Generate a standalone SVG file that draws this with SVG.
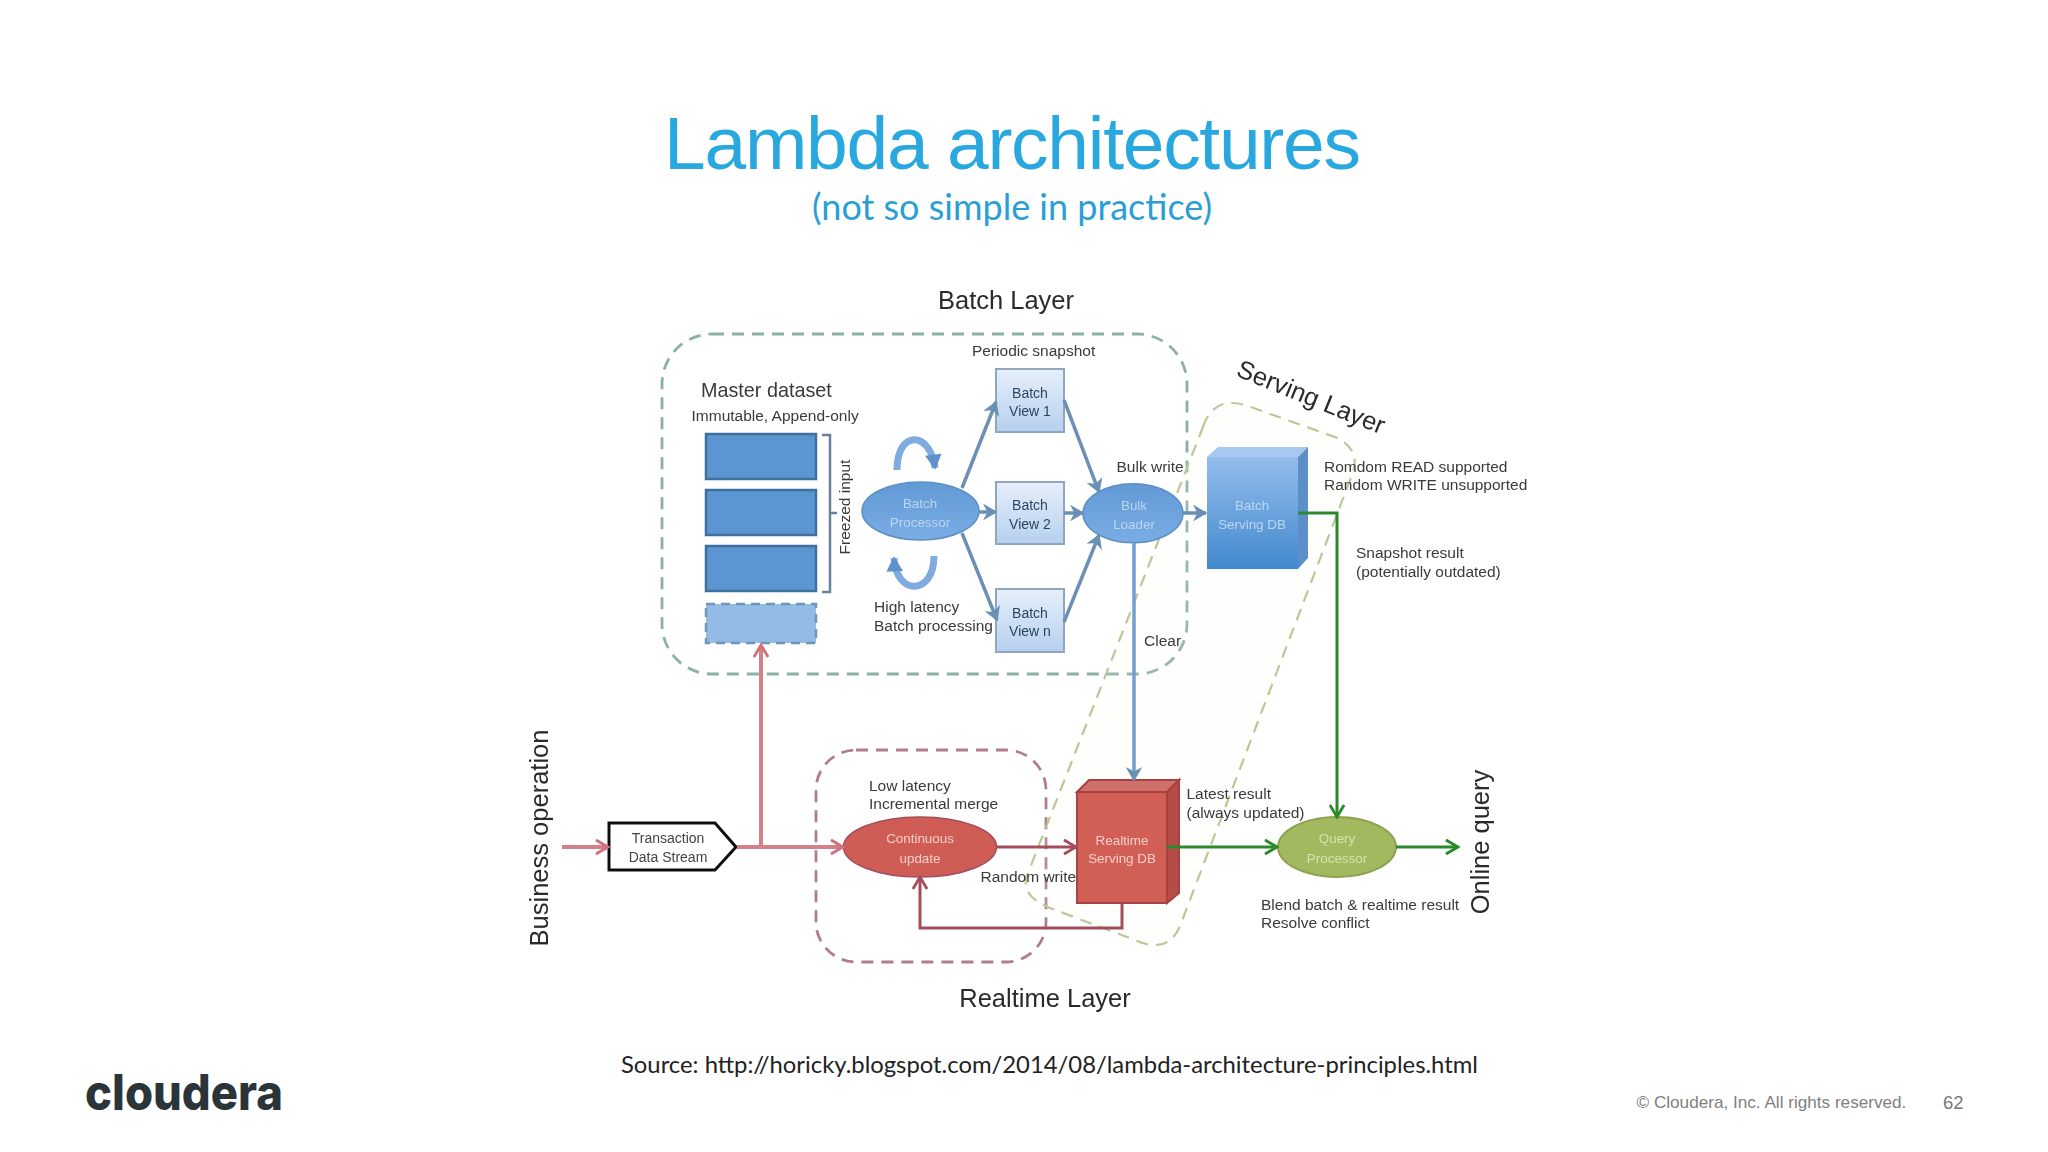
<svg xmlns="http://www.w3.org/2000/svg" width="2048" height="1152" viewBox="0 0 2048 1152">
<style>
text{font-family:"Liberation Sans",Arial,sans-serif;fill:#3a3a3a}
.s{font-size:15.5px}
.l{font-size:25.5px;fill:#2a2a2a}
.m{text-anchor:middle}
.v{font-size:14px;text-anchor:middle;fill:#2c4560;font-weight:500}
.b{font-size:13.4px;text-anchor:middle;fill:#bcd6f0}
.r{font-size:13.4px;text-anchor:middle;fill:#f7cfc8}
.g{font-size:13.4px;text-anchor:middle;fill:#d6e2b0}
.blk{fill:#5b96d2;stroke:#3f6f9e;stroke-width:2.5}
.view{fill:url(#vg);stroke:#8fa6bd;stroke-width:2}
.ar{fill:none;stroke:#6a90b5;stroke-width:3.5}
.rd{fill:none;stroke:#d58088;stroke-width:4}
.rt{fill:none;stroke:#a34e5c;stroke-width:3}
.gr{fill:none;stroke:#2b8a2b;stroke-width:3}
</style>
<defs>
<filter id="soft" x="-2%" y="-2%" width="104%" height="104%"><feGaussianBlur stdDeviation="0.55"/></filter>
<linearGradient id="vg" x1="0" y1="0" x2="0" y2="1"><stop offset="0" stop-color="#e6effa"/><stop offset="1" stop-color="#b6d0ef"/></linearGradient>
<linearGradient id="eg" x1="0" y1="0" x2="0" y2="1"><stop offset="0" stop-color="#6299d6"/><stop offset="1" stop-color="#7aade4"/></linearGradient>
<linearGradient id="dbg" x1="0" y1="0" x2="0" y2="1"><stop offset="0" stop-color="#93bdec"/><stop offset="1" stop-color="#4289cf"/></linearGradient>
<marker id="ab" viewBox="0 0 12 12" refX="10.5" refY="6" markerWidth="16" markerHeight="16" markerUnits="userSpaceOnUse" orient="auto"><path d="M2,1 L10.5,6 L2,11 L4.5,6 Z" fill="#6a90b5" stroke="#6a90b5" stroke-width="1"/></marker>
<marker id="ac" viewBox="0 0 12 12" refX="9" refY="6" markerWidth="20" markerHeight="20" markerUnits="userSpaceOnUse" orient="auto"><path d="M1,1 L10,6 L1,11 Z" fill="#5e92cc"/></marker>
<marker id="ar" viewBox="0 0 12 12" refX="10.5" refY="6" markerWidth="17" markerHeight="17" markerUnits="userSpaceOnUse" orient="auto"><path d="M2,1 L10.5,6 L2,11" fill="none" stroke="#d0707c" stroke-width="2"/></marker>
<marker id="at" viewBox="0 0 12 12" refX="10.5" refY="6" markerWidth="17" markerHeight="17" markerUnits="userSpaceOnUse" orient="auto"><path d="M2,1 L10.5,6 L2,11" fill="none" stroke="#a34e5c" stroke-width="2"/></marker>
<marker id="ag" viewBox="0 0 12 12" refX="10.5" refY="6" markerWidth="17" markerHeight="17" markerUnits="userSpaceOnUse" orient="auto"><path d="M2,1 L10.5,6 L2,11" fill="none" stroke="#2b8a2b" stroke-width="2"/></marker>
</defs>
<rect width="2048" height="1152" fill="#fff"/>
<text x="664" y="169" font-size="75" textLength="697" lengthAdjust="spacing" style="fill:#29a8df">Lambda architectures</text>
<text x="812" y="220" textLength="400" lengthAdjust="spacingAndGlyphs" style="font-family:Lato,'Noto Sans',sans-serif;font-size:36px;fill:#2a9fd6">(not so simple in practice)</text>

<g id="diagram" filter="url(#soft)">
<g id="layer-batch">
<rect x="662" y="334" width="525" height="340" rx="50" ry="50" fill="none" stroke="#8bb0a8" stroke-width="2.800" stroke-dasharray="12 8"/>
<text class="l m" x="1006" y="309">Batch Layer</text>
</g>
<g id="layer-realtime">
<rect x="816" y="750" width="230" height="212" rx="40" ry="40" fill="none" stroke="#b07d90" stroke-width="2.800" stroke-dasharray="12 8"/>
<text class="l m" x="1045" y="1007">Realtime Layer</text>
</g>
<g id="layer-serving">
<path d="M1203,427 Q1213,396 1245,405 L1335,437 Q1362,449 1352,475 L1180,926 Q1168,955 1135,940 L1050,908 Q1018,895 1028,873 Z" fill="#f8f9e6" fill-opacity="0.12" stroke="#bcc797" stroke-width="2.200" stroke-dasharray="12 8"/>
<text class="l m" transform="translate(1308,405) rotate(22)">Serving Layer</text>
</g>

<g id="master-dataset">
<rect class="blk" x="706" y="434" width="110" height="45"/>
<rect class="blk" x="706" y="490" width="110" height="45"/>
<rect class="blk" x="706" y="546" width="110" height="45"/>
<rect x="706" y="604" width="110" height="39" fill="#94bbe5" stroke="#6f95bd" stroke-width="2.500" stroke-dasharray="9 6"/>
<text class="s" x="701" y="397" style="font-size:19.8px">Master dataset</text>
<text class="s" x="691.500" y="421">Immutable, Append-only</text>
<text class="s m" transform="translate(850,507) rotate(-90)">Freezed input</text>
</g>
<g id="batch-processor">
<ellipse cx="920.500" cy="511" rx="58.500" ry="29" fill="url(#eg)" stroke="#5a8ec4" stroke-width="1.500"/>
<text class="b" x="920" y="508">Batch</text>
<text class="b" x="920" y="527">Processor</text>
</g>
<g id="batch-view-1">
<rect class="view" x="996" y="369" width="68" height="63"/>
<text class="v" x="1030" y="397.500">Batch</text><text class="v" x="1030" y="415.500">View 1</text>
</g>
<g id="batch-view-2">
<rect class="view" x="996" y="482" width="68" height="62"/>
<text class="v" x="1030" y="510">Batch</text><text class="v" x="1030" y="528.500">View 2</text>
</g>
<g id="batch-view-n">
<rect class="view" x="996" y="589" width="68" height="63"/>
<text class="v" x="1030" y="618">Batch</text><text class="v" x="1030" y="636">View n</text>
</g>
<g id="bulk-loader">
<ellipse cx="1133" cy="513.300" rx="50" ry="29.500" fill="url(#eg)" stroke="#5a8ec4" stroke-width="1.500"/>
<text class="b" x="1134" y="510">Bulk</text>
<text class="b" x="1134" y="529">Loader</text>
</g>
<g id="batch-serving-db">
<path d="M1207,457 L1218,447 L1308,447 L1298,457 Z" fill="#a8c8f0"/>
<path d="M1298,457 L1308,447 L1308,558 L1298,569 Z" fill="#5b8fc8"/>
<rect x="1207" y="457" width="91" height="112" fill="url(#dbg)"/>
<text class="b" x="1252" y="510">Batch</text>
<text class="b" x="1252" y="529">Serving DB</text>
</g>
<g id="transaction-stream">
<path d="M609,823 L715,823 L736,847 L715,870 L609,870 Z" fill="#fff" stroke="#111" stroke-width="3"/>
<text class="v" x="668" y="843" style="fill:#444">Transaction</text>
<text class="v" x="668" y="862" style="fill:#444">Data Stream</text>
</g>
<g id="continuous-update">
<ellipse cx="920" cy="847" rx="76.500" ry="30" fill="#cf5d56" stroke="#a34e5c" stroke-width="1.500"/>
<text class="r" x="920" y="843">Continuous</text>
<text class="r" x="920" y="863">update</text>
</g>
<g id="realtime-serving-db">
<path d="M1077,792 L1089,780 L1179,780 L1167,792 Z" fill="#cf6f6a" stroke="#a8423f" stroke-width="2"/>
<path d="M1167,792 L1179,780 L1179,893 L1167,903 Z" fill="#b44e49" stroke="#a8423f" stroke-width="2"/>
<rect x="1077" y="792" width="90" height="111" fill="#d25f57" stroke="#a8423f" stroke-width="2"/>
<text class="r" x="1122" y="845">Realtime</text>
<text class="r" x="1122" y="863">Serving DB</text>
</g>
<g id="query-processor">
<ellipse cx="1337" cy="847" rx="59" ry="30" fill="#a3b95f" stroke="#8ea24f" stroke-width="2"/>
<text class="g" x="1337" y="843">Query</text>
<text class="g" x="1337" y="863">Processor</text>
</g>

<g id="connectors">
<path class="ar" d="M962,488 L996,402" marker-end="url(#ab)"/>
<path class="ar" d="M979,512 L996,512" marker-end="url(#ab)"/>
<path class="ar" d="M962,533 L997,620" marker-end="url(#ab)"/>
<path class="ar" d="M1064,400 L1099,492" marker-end="url(#ab)"/>
<path class="ar" d="M1064,513 L1083,513" marker-end="url(#ab)"/>
<path class="ar" d="M1064,622 L1099,535" marker-end="url(#ab)"/>
<path class="ar" d="M1183,513 L1206,513" marker-end="url(#ab)"/>
<path d="M1134,543 L1134,780" fill="none" stroke="#6f9fd0" stroke-width="3.500" marker-end="url(#ab)"/>
<path d="M897,470 C897,430 930,430 935,468" fill="none" stroke="#7fabde" stroke-width="7" marker-end="url(#ac)"/>
<path d="M934,556 C934,596 896,596 894,558" fill="none" stroke="#7fabde" stroke-width="7" marker-end="url(#ac)"/>
<path class="rd" d="M562,847 L608,847" marker-end="url(#ar)"/>
<path class="rd" d="M737,847 L843,847" marker-end="url(#ar)"/>
<path class="rd" d="M761,847 L761,645" marker-end="url(#ar)"/>
<path class="rt" d="M997,847 L1076,847" marker-end="url(#at)"/>
<path class="rt" d="M1122,904 L1122,928 L920,928 L920,877" marker-end="url(#at)"/>
<path class="gr" d="M1298,513 L1337,513 L1337,817" marker-end="url(#ag)"/>
<path class="gr" d="M1167,847 L1277,847" marker-end="url(#ag)"/>
<path class="gr" d="M1396,847 L1458,847" marker-end="url(#ag)"/>
<path d="M822,435 L830,435 L830,592 L822,592 M830,513 L837,513" fill="none" stroke="#6b7f9e" stroke-width="2.500"/>
</g>

<g id="labels">
<text class="s" x="972" y="356">Periodic snapshot</text>
<text class="s" x="1116.500" y="472">Bulk write</text>
<text class="s" x="874" y="612">High latency</text>
<text class="s" x="874" y="631">Batch processing</text>
<text class="s" x="1144" y="646">Clear</text>
<text class="s" x="1324" y="471.500">Romdom READ supported</text>
<text class="s" x="1324" y="490">Random WRITE unsupported</text>
<text class="s" x="1356" y="558">Snapshot result</text>
<text class="s" x="1356" y="577">(potentially outdated)</text>
<text class="s" x="869" y="790.500">Low latency</text>
<text class="s" x="869" y="808.500">Incremental merge</text>
<text class="s" x="980.500" y="881.500">Random write</text>
<text class="s" x="1186.500" y="799">Latest result</text>
<text class="s" x="1186.500" y="817.500">(always updated)</text>
<text class="s" x="1261" y="910">Blend batch &amp; realtime result</text>
<text class="s" x="1261" y="928">Resolve conflict</text>
<text class="l m" transform="translate(548,838) rotate(-90)">Business operation</text>
<text class="l m" transform="translate(1489,842) rotate(-90)">Online query</text>
</g>
</g>

<text x="621" y="1073" textLength="857" lengthAdjust="spacingAndGlyphs" style="font-family:Lato,'Noto Sans',sans-serif;font-size:24px;fill:#222">Source: http://horicky.blogspot.com/2014/08/lambda-architecture-principles.html</text>
<text x="85" y="1110" textLength="198" lengthAdjust="spacingAndGlyphs" style="font-family:Inter,'Noto Sans',sans-serif;font-weight:800;font-size:50px;fill:#2b3539">cloudera</text>
<text x="1636.500" y="1108" style="font-size:17.150px;fill:#808080">© Cloudera, Inc. All rights reserved.</text>
<text x="1943" y="1109" style="font-size:18.500px;fill:#777">62</text>
</svg>
